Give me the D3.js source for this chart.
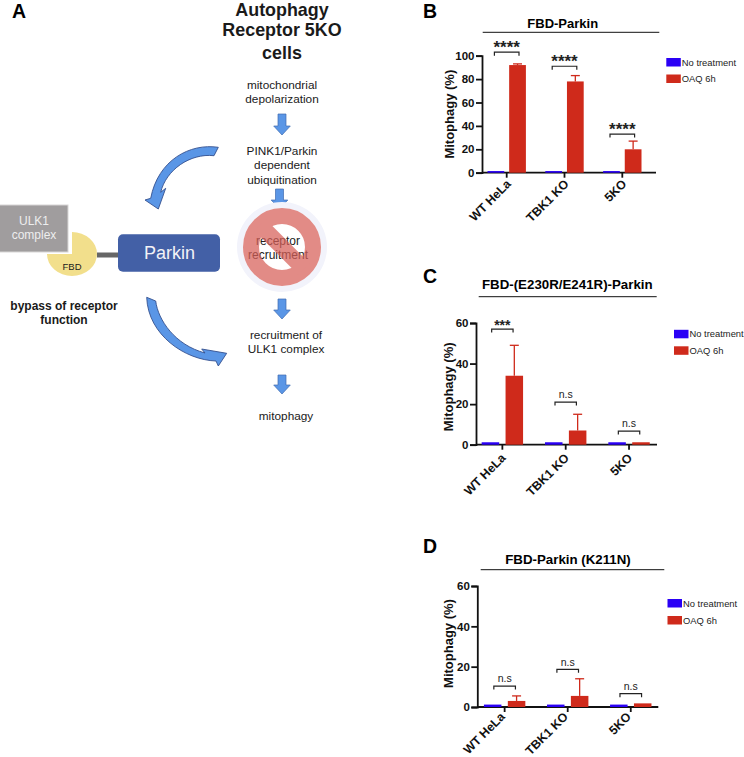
<!DOCTYPE html>
<html>
<head>
<meta charset="utf-8">
<script src="https://d3js.org/d3.v7.min.js"></script>
<style>
  body { margin: 0; background: #fff; }
  svg text { font-family: "Liberation Sans", Arial, sans-serif; }
</style>
</head>
<body>
<svg id="fig" width="744" height="757"></svg>
<script>
// chart values
const categories = ["WT HeLa", "TBK1 KO", "5KO"];
const seriesNames = ["No treatment", "OAQ 6h"];
const seriesColors = ["#2a00f5", "#cf2a1b"];

const noTreatmentB = [1.4, 1.4, 1.4];
const oaqB = [92, 78, 20];
const oaqTopB = [93, 83, 27];
const bracketB = [103, 91, 33];
const sigB = ["****", "****", "****"];

const noTreatmentC = [1.2, 1.2, 1.2];
const oaqC = [34, 7, 1.2];
const oaqTopC = [49, 15, 1.2];
const bracketC = [57, 21, 6.7];
const sigC = ["***", "n.s", "n.s"];

const noTreatmentD = [1.2, 1.2, 1.2];
const oaqD = [3, 5.5, 1.8];
const oaqTopD = [5.5, 14, 1.8];
const bracketD = [10.4, 18.7, 6.6];
const sigD = ["n.s", "n.s", "n.s"];

const svg = d3.select("#fig");

function barPanel(p) {
  const g = svg.append("g");
  const y = d3.scaleLinear().domain(p.domain).range([p.y0, p.y1]);
  const x = d3.scaleBand().domain(categories).range(p.xRange).paddingInner(0).paddingOuter(0);
  const sub = d3.scaleBand().domain(seriesNames).range([x.bandwidth() / 2 - p.barSpan, x.bandwidth() / 2 + p.barSpan]).paddingInner(p.barGap);

  // title + rule
  g.append("text").attr("x", p.titleX).attr("y", p.titleY).attr("text-anchor", "middle")
    .attr("font-size", p.titleSize).attr("font-weight", "bold").text(p.title);
  g.append("line").attr("x1", p.rule[0]).attr("x2", p.rule[1]).attr("y1", p.ruleY).attr("y2", p.ruleY)
    .attr("stroke", "#111").attr("stroke-width", 1);

  // axes go under the bars so the short blue bars still show
  const yAxis = d3.axisLeft(y).tickValues(p.ticks).tickSize(6).tickPadding(1.5);
  const ya = g.append("g").attr("transform", "translate(" + p.axisX + ",0)").call(yAxis);
  const xAxis = d3.axisBottom(x).tickSize(5).tickFormat("");
  const xa = g.append("g").attr("transform", "translate(0," + p.y0 + ")").call(xAxis);
  xa.select(".domain").attr("d", "M" + p.axisX + ",0H" + p.axisEnd);
  [ya, xa].forEach(function (a) {
    a.selectAll(".domain").attr("stroke", "#111").attr("stroke-width", 1.8);
    a.selectAll(".tick line").attr("stroke", "#111").attr("stroke-width", 1.8);
  });
  ya.selectAll("text").attr("font-size", 11.5).attr("font-weight", "bold")
    .style("font-family", '"Liberation Sans", Arial, sans-serif').attr("fill", "#111");

  // bars
  categories.forEach(function (c, i) {
    const gx = x(c);
    [p.blue[i], p.red[i]].forEach(function (v, j) {
      g.append("rect")
        .attr("x", gx + sub(seriesNames[j]))
        .attr("y", y(v))
        .attr("width", sub.bandwidth())
        .attr("height", y(0) - y(v))
        .attr("fill", seriesColors[j]);
    });
    // error bar (upper only)
    if (p.top[i] > p.red[i]) {
      const cx = gx + sub(seriesNames[1]) + sub.bandwidth() / 2;
      g.append("line").attr("x1", cx).attr("x2", cx).attr("y1", y(p.red[i])).attr("y2", y(p.top[i]))
        .attr("stroke", seriesColors[1]).attr("stroke-width", 1.3);
      g.append("line").attr("x1", cx - 4.5).attr("x2", cx + 4.5).attr("y1", y(p.top[i])).attr("y2", y(p.top[i]))
        .attr("stroke", seriesColors[1]).attr("stroke-width", 1.3);
    }
    // significance bracket
    const mid = gx + x.bandwidth() / 2;
    const by = y(p.bracket[i]);
    g.append("path")
      .attr("d", d3.line()([[mid - p.brHalf, by + 3.5], [mid - p.brHalf, by], [mid + p.brHalf, by], [mid + p.brHalf, by + 3.5]]))
      .attr("fill", "none").attr("stroke", "#222").attr("stroke-width", 1.2);
    const stars = p.sig[i] !== "n.s";
    g.append("text").attr("x", mid).attr("y", stars ? by + p.starSize * 0.05 : by - 3.7).attr("text-anchor", "middle")
      .attr("font-size", stars ? p.starSize : 10.5).attr("font-weight", stars ? "bold" : "normal")
      .attr("fill", "#222").text(p.sig[i]);
  });

  // rotated category labels
  categories.forEach(function (c) {
    const cx = x(c) + x.bandwidth() / 2;
    g.append("text")
      .attr("transform", "translate(" + (cx + p.labelDx) + "," + (p.y0 + p.labelDy) + ") rotate(-45)")
      .attr("text-anchor", "end").attr("font-size", 12.3).attr("font-weight", "bold").attr("fill", "#111")
      .text(c);
  });

  // y title
  g.append("text")
    .attr("transform", "translate(" + p.yTitleX + "," + ((p.y0 + p.y1) / 2 + p.yTitleShift) + ") rotate(-90)")
    .attr("text-anchor", "middle").attr("font-size", 13).attr("font-weight", "bold").attr("fill", "#111")
    .text("Mitophagy (%)");

  // legend
  seriesNames.forEach(function (s, j) {
    const ly = p.legY[j];
    g.append("rect").attr("x", p.legX).attr("y", ly).attr("width", 14.5).attr("height", 8.5).attr("fill", seriesColors[j]);
    g.append("text").attr("x", p.legX + 15.5).attr("y", ly + 7.5).attr("font-size", 9.4).attr("fill", "#222").text(s);
  });
}

barPanel({
  title: "FBD-Parkin", titleSize: 13, titleX: 562.7, titleY: 27.5, rule: [482.7, 659.3], ruleY: 32.3,
  domain: [0, 100], ticks: [0, 20, 40, 60, 80, 100], y0: 172.7, y1: 55.7,
  xRange: [477.8, 651.2], barSpan: 19.2, barGap: 0.227, axisX: 482, axisEnd: 656,
  blue: noTreatmentB, red: oaqB, top: oaqTopB, bracket: bracketB, sig: sigB, starSize: 17,
  brHalf: 12.3, yTitleX: 454, yTitleShift: 0, legX: 666.3, legY: [58, 74.5], labelDx: 5, labelDy: 12
});
barPanel({
  title: "FBD-(E230R/E241R)-Parkin", titleSize: 13.3, titleX: 567.3, titleY: 289, rule: [478.7, 656.7], ruleY: 296.7,
  domain: [0, 60], ticks: [0, 20, 40, 60], y0: 444.7, y1: 323,
  xRange: [470.7, 660.7], barSpan: 20.7, barGap: 0.267, axisX: 476, axisEnd: 657,
  blue: noTreatmentC, red: oaqC, top: oaqTopC, bracket: bracketC, sig: sigC, starSize: 14,
  brHalf: 10.7, yTitleX: 453, yTitleShift: 3, legX: 674, legY: [329.8, 346.3], labelDx: 4, labelDy: 14
});
barPanel({
  title: "FBD-Parkin (K211N)", titleSize: 13.3, titleX: 568, titleY: 564, rule: [480.7, 664.3], ruleY: 569.7,
  domain: [0, 60], ticks: [0, 20, 40, 60], y0: 707, y1: 586,
  xRange: [473.1, 662.3], barSpan: 20.7, barGap: 0.267, axisX: 477.3, axisEnd: 658.3,
  blue: noTreatmentD, red: oaqD, top: oaqTopD, bracket: bracketD, sig: sigD, starSize: 14,
  brHalf: 10.8, yTitleX: 453, yTitleShift: -3, legX: 667.5, legY: [599, 616], labelDx: 1, labelDy: 10.5
});

// panel letters
[["A", 12, 18], ["B", 423, 18], ["C", 423, 283], ["D", 423, 553]].forEach(function (d) {
  svg.append("text").attr("x", d[1]).attr("y", d[2]).attr("font-size", 19.5).attr("font-weight", "bold").text(d[0]);
});

// schematic, panel A
const dia = svg.append("g");

function textLines(lines, cx, cy, size, opts) {
  opts = opts || {};
  lines.forEach(function (t, i) {
    dia.append("text").attr("x", cx).attr("y", cy[i]).attr("text-anchor", "middle")
      .attr("font-size", size).attr("font-weight", opts.bold ? "bold" : "normal")
      .attr("fill", opts.fill || "#1a1a1a").text(t);
  });
}

function downArrow(cx, y0, y1) {
  const h = 9;
  dia.append("path")
    .attr("d", "M" + (cx - 4) + "," + y0 + "H" + (cx + 4) + "V" + (y1 - h) + "H" + (cx + 8.3) + "L" + cx + "," + y1 + "L" + (cx - 8.3) + "," + (y1 - h) + "H" + (cx - 4) + "Z")
    .attr("fill", "#5a96e6").attr("stroke", "#3f6cb0").attr("stroke-width", 0.7);
}

textLines(["Autophagy", "Receptor 5KO", "cells"], 282, [16.3, 36, 59], 17.9, {bold: true});
textLines(["mitochondrial", "depolarization"], 282, [89, 103], 11.8);
downArrow(282, 114, 135);
textLines(["PINK1/Parkin", "dependent", "ubiquitination"], 282, [155, 169, 184], 11.8);
downArrow(279.5, 189, 209);

// blocked step
dia.append("circle").attr("cx", 282).attr("cy", 247).attr("r", 45).attr("fill", "#f2f3fb");
dia.append("circle").attr("cx", 282).attr("cy", 247).attr("r", 39).attr("fill", "#fff");
textLines(["receptor", "recruitment"], 278, [245, 259], 12, {fill: "#222"});
const noSign = dia.append("g").attr("opacity", 0.72);
noSign.append("circle").attr("cx", 282).attr("cy", 247).attr("r", 31).attr("fill", "none").attr("stroke", "#d75f58").attr("stroke-width", 16);
noSign.append("line").attr("x1", 260).attr("y1", 225).attr("x2", 304).attr("y2", 269).attr("stroke", "#d75f58").attr("stroke-width", 16);

downArrow(282, 299, 319);
textLines(["recruitment of", "ULK1 complex"], 286, [339, 353], 11.8);
downArrow(282, 375, 394);
textLines(["mitophagy"], 286, [420], 11.8);

// FBD + ULK1
dia.append("path").attr("d", "M72,232 A25,22 0 1 1 47,254 L72,254 Z").attr("fill", "#f2df8c");
dia.append("rect").attr("x", -2).attr("y", 205).attr("width", 70).attr("height", 47).attr("fill", "#a09d9e").attr("stroke", "#d8d6d6").attr("stroke-width", 1);
textLines(["ULK1", "complex"], 34, [225, 239], 12, {fill: "#eeeeee"});
textLines(["FBD"], 72, [270], 9.5);
dia.append("rect").attr("x", 97).attr("y", 252.5).attr("width", 22).attr("height", 5).attr("fill", "#666");
dia.append("rect").attr("x", 118).attr("y", 234.3).attr("width", 102).attr("height", 37.4).attr("rx", 5).attr("fill", "#4360a6");
textLines(["Parkin"], 169.6, [259], 18, {fill: "#f2f2f6"});
textLines(["bypass of receptor", "function"], 64, [310, 324], 12, {bold: true});

// curved arrows
dia.append("path")
  .attr("d", "M218.3,147.3 C190,143 158,160 150.7,198.3 L145,200 L158.3,209 L165.7,188.3 L160.7,192.3 C166,170 190,153 214,155.7 Z")
  .attr("fill", "#5a96e6").attr("stroke", "#34508f").attr("stroke-width", 0.9);
dia.append("path")
  .attr("d", "M146.7,297.3 L155.7,301 C158,320 175,345 205,353 L201.7,349 L226.7,353.3 L218.3,366 L216,361 C185,360 148,335 146.7,297.3 Z")
  .attr("fill", "#5a96e6").attr("stroke", "#34508f").attr("stroke-width", 0.9);
</script>
</body>
</html>
